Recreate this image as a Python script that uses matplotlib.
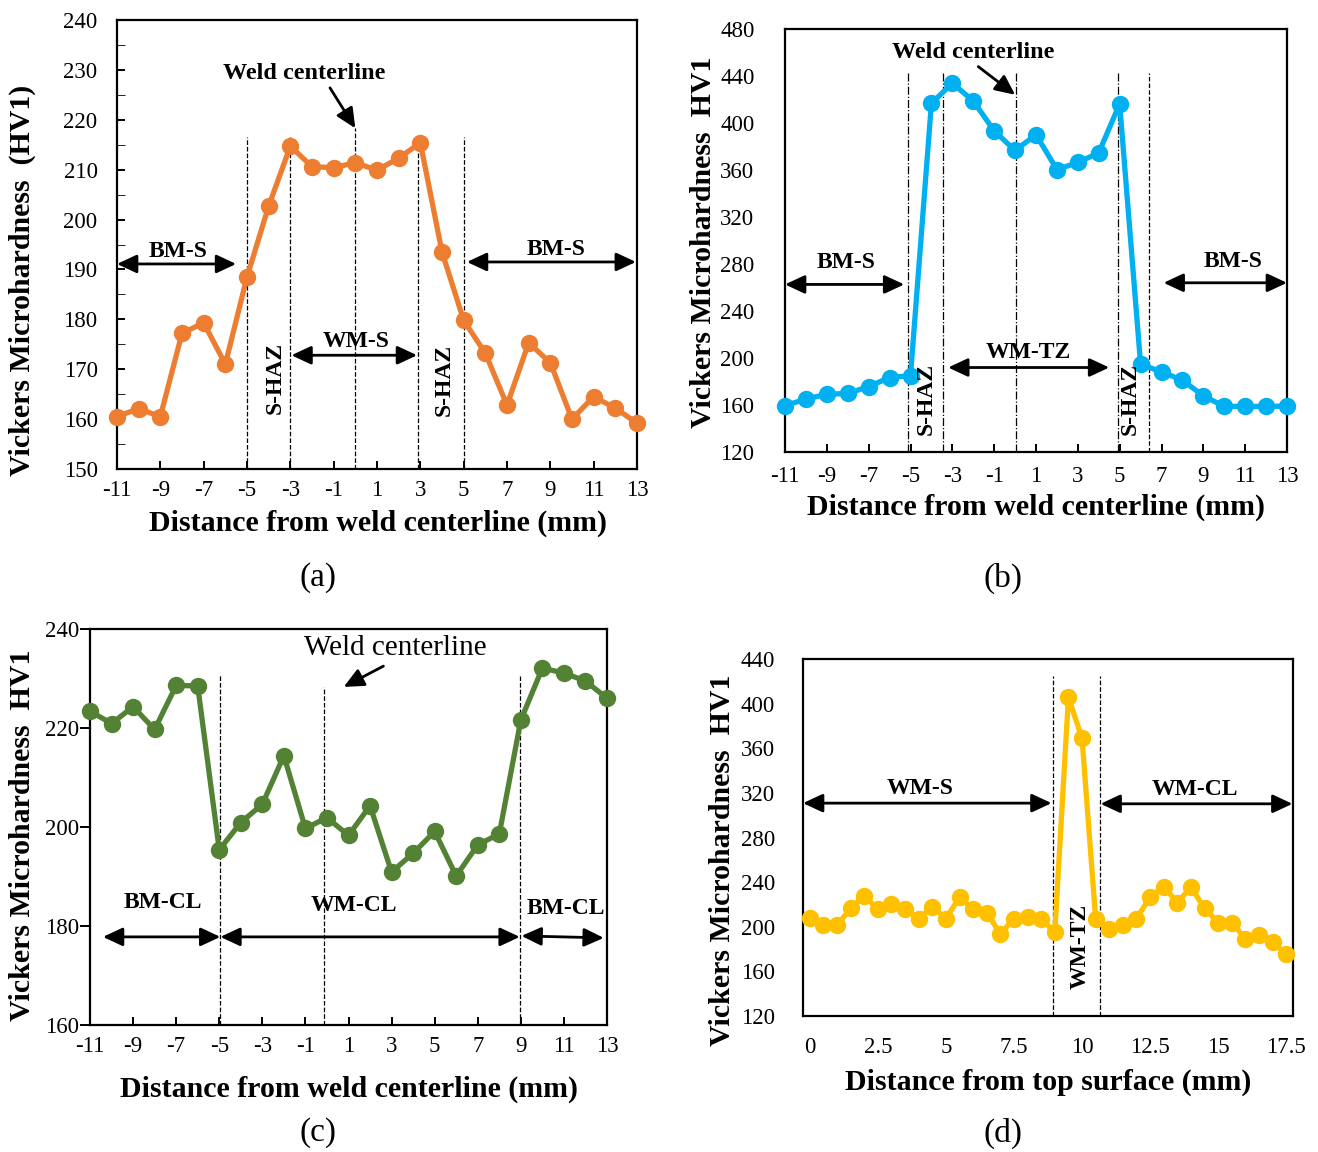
import numpy as np
import matplotlib

matplotlib.use("Agg")
import matplotlib.pyplot as plt
from matplotlib.ticker import MultipleLocator

plt.rcParams["font.family"] = ["Liberation Serif", "DejaVu Serif"]
plt.rcParams["axes.unicode_minus"] = False

# (a) across the weld, surface
a_dist = np.arange(-11, 14)
a_hv = [160.5, 162.1, 160.5, 177.2, 179.3, 171.0, 188.5, 202.7, 214.7, 210.6,
        210.4, 211.4, 209.9, 212.3, 215.4, 193.5, 179.8, 173.2, 162.8, 175.3,
        171.3, 160.0, 164.5, 162.2, 159.2]

# (b) across the weld, transition zone
b_dist = np.arange(-11, 14)
b_hv = [159.5, 165.0, 169.2, 169.8, 175.7, 183.4, 185.0, 416.8, 433.8, 418.8,
        393.3, 376.6, 390.0, 360.4, 366.4, 374.6, 416.3, 194.7, 188.2, 181.1,
        167.8, 158.8, 158.8, 158.8, 159.0]

# (c) across the weld, centre line
c_dist = np.arange(-11, 14)
c_hv = [223.4, 220.9, 224.3, 219.7, 228.6, 228.5, 195.4, 200.9, 204.6, 214.4,
        199.7, 201.9, 198.3, 204.3, 190.9, 194.7, 199.1, 190.1, 196.4, 198.6,
        221.6, 232.1, 231.1, 229.5, 226.0]

# (d) through the thickness
d_depth = np.arange(0, 18, 0.5)
d_hv = [207.6, 201.4, 201.4, 216.6, 227.7, 215.7, 220.2, 215.7, 207.3, 218.0,
        207.3, 226.5, 215.7, 212.7, 193.6, 207.3, 209.1, 206.7, 195.4, 405.6,
        368.8, 207.3, 198.3, 201.4, 207.3, 226.5, 236.0, 221.6, 235.5, 216.6,
        203.7, 203.7, 189.3, 192.7, 186.1, 175.6]

W, H = 1318, 1152
fig = plt.figure(figsize=(W / 100, H / 100), dpi=100)


def rect(left, right, top, bottom):
    return [left / W, 1 - bottom / H, (right - left) / W, (bottom - top) / H]


def profile(ax, x, y, color):
    ax.plot(x, y, color=color, lw=3.8, marker="o", ms=11.5, zorder=3,
            clip_on=False)
    for side in ax.spines.values():
        side.set_linewidth(1.6)
    ax.tick_params(labelsize=16.5, width=1.4)


def vline(ax, x, top, style="--"):
    ax.plot([x, x], [ax.get_ylim()[0], top], color="black", lw=0.9,
            ls=style, zorder=2)


def span(ax, x0, x1, y0, y1=None):
    ax.annotate("", xy=(x1, y0 if y1 is None else y1), xytext=(x0, y0),
                arrowprops=dict(arrowstyle="<|-|>,head_length=0.6,head_width=0.28",
                                color="black", lw=2, mutation_scale=20,
                                shrinkA=0, shrinkB=0), zorder=4)


def label(ax, x, y, s, rot=0):
    ax.text(x, y, s, ha="center", va="center", fontsize=17,
            fontweight="bold", rotation=rot, zorder=4)


def axis_labels(ax, xlab, ylab, xpos, ypos):
    ax.set_xlabel(xlab, fontsize=21.5, fontweight="bold", va="center")
    ax.set_ylabel(ylab, fontsize=21.5, fontweight="bold", va="center")
    ax.xaxis.set_label_coords(*xpos)
    ax.yaxis.set_label_coords(*ypos)


# ---- (a)
ax = fig.add_axes(rect(117, 637, 20, 469))
ax.set_xlim(-11, 13)
ax.set_ylim(150, 240)
profile(ax, a_dist, a_hv, "#ED7D31")
ax.set_xticks(np.arange(-11, 14, 2))
ax.set_yticks(np.arange(150, 241, 10))
ax.yaxis.set_minor_locator(MultipleLocator(5))
ax.tick_params(axis="both", which="both", direction="in", length=6)
ax.tick_params(axis="y", which="both", right=False, pad=14)
ax.tick_params(axis="x", pad=8)
for xv in (-5, -3, 2.9, 5):
    vline(ax, xv, 216.6)
vline(ax, 0, 218.3)
ax.text(-2.37, 229.3, "Weld centerline", ha="center", va="center",
        fontsize=17.5, fontweight="bold")
ax.annotate("", xy=(0, 218.3), xytext=(-1.17, 226.4),
            arrowprops=dict(arrowstyle="-|>,head_length=0.6,head_width=0.28",
                            color="black", lw=2, mutation_scale=20,
                            shrinkA=0, shrinkB=0))
span(ax, -11, -5.5, 191.1)
label(ax, -8.2, 193.5, "BM-S")
span(ax, 5.15, 12.95, 191.5)
label(ax, 9.25, 193.9, "BM-S")
span(ax, -2.95, 2.85, 172.8)
label(ax, 0.05, 175.5, "WM-S")
label(ax, -3.7, 168.2, "S-HAZ", rot=90)
label(ax, 4.1, 167.8, "S-HAZ", rot=90)
axis_labels(ax, "Distance from weld centerline (mm)",
            "Vickers Microhardness  (HV1)", (0.502, -0.12), (-0.183, 0.421))

# ---- (b)
ax = fig.add_axes(rect(785, 1287, 29, 452))
ax.set_xlim(-11, 13)
ax.set_ylim(120, 480)
profile(ax, b_dist, b_hv, "#00B0F0")
ax.set_xticks(np.arange(-11, 14, 2))
ax.set_yticks(np.arange(120, 481, 40))
ax.tick_params(axis="x", direction="in", length=6, pad=10)
ax.tick_params(axis="y", length=0, pad=22)
for xv in (-5.14, -3.44, 0.02, 4.92):
    vline(ax, xv, 442.3, style="-.")
vline(ax, 6.41, 442.3)
ax.text(-2.0, 459.8, "Weld centerline", ha="center", va="center",
        fontsize=17.5, fontweight="bold")
ax.annotate("", xy=(0.0, 424.0), xytext=(-1.76, 448.0),
            arrowprops=dict(arrowstyle="-|>,head_length=0.6,head_width=0.28",
                            color="black", lw=2, mutation_scale=20,
                            shrinkA=0, shrinkB=0))
span(ax, -11, -5.3, 262.6)
label(ax, -8.1, 281, "BM-S")
span(ax, 7.1, 13, 264)
label(ax, 10.4, 282, "BM-S")
span(ax, -3.2, 4.5, 191.9)
label(ax, 0.63, 204.6, "WM-TZ")
label(ax, -4.23, 165, "S-HAZ", rot=90)
label(ax, 5.5, 165, "S-HAZ", rot=90)
axis_labels(ax, "Distance from weld centerline (mm)",
            "Vickers Microhardness  HV1", (0.5, -0.13), (-0.163, 0.496))

# ---- (c)
ax = fig.add_axes(rect(90, 607, 629, 1025))
ax.set_xlim(-11, 13)
ax.set_ylim(160, 240)
profile(ax, c_dist, c_hv, "#548235")
ax.set_xticks(np.arange(-11, 14, 2))
ax.set_yticks(np.arange(160, 241, 20))
ax.tick_params(axis="x", direction="in", length=6, pad=8)
ax.tick_params(axis="y", direction="out", length=7, pad=1)
vline(ax, -4.95, 230.8)
vline(ax, -0.15, 228.3)
vline(ax, 8.98, 230.5)
ax.text(3.17, 236.1, "Weld centerline", ha="center", va="center", fontsize=21)
ax.annotate("", xy=(0.78, 228.3), xytext=(2.62, 232.5),
            arrowprops=dict(arrowstyle="-|>,head_length=0.6,head_width=0.28",
                            color="black", lw=2, mutation_scale=20,
                            shrinkA=0, shrinkB=0))
span(ax, -10.4, -4.95, 177.8)
label(ax, -7.6, 184.8, "BM-CL")
span(ax, -4.95, 8.95, 177.8)
label(ax, 1.26, 184.2, "WM-CL")
span(ax, 9.03, 12.85, 178.0, 177.6)
label(ax, 11.1, 183.5, "BM-CL")
axis_labels(ax, "Distance from weld centerline (mm)",
            "Vickers Microhardness  HV1", (0.5, -0.162), (-0.1315, 0.48))

# ---- (d)
ax = fig.add_axes(rect(803, 1293, 659, 1016))
ax.set_xlim(-0.25, 17.75)
ax.set_ylim(120, 440)
profile(ax, d_depth, d_hv, "#FFC000")
ax.set_xticks(np.arange(0, 17.6, 2.5))
ax.set_xticklabels(["0", "2.5", "5", "7.5", "10", "12.5", "15", "17.5"])
ax.set_yticks(np.arange(120, 441, 40))
ax.tick_params(axis="x", length=0, pad=15)
ax.tick_params(axis="y", length=0, pad=20)
vline(ax, 8.92, 424.4)
vline(ax, 10.66, 424.4)
span(ax, -0.25, 8.88, 310.8)
label(ax, 4.05, 324.3, "WM-S")
span(ax, 10.68, 17.73, 310.2)
label(ax, 14.14, 322.7, "WM-CL")
label(ax, 9.95, 182.2, "WM-TZ", rot=90)
axis_labels(ax, "Distance from top surface (mm)",
            "Vickers Microhardness  HV1", (0.5, -0.185), (-0.165, 0.437))

for s, (px, py) in zip(["(a)", "(b)", "(c)", "(d)"],
                       [(318, 578), (1003, 578), (318, 1133), (1003, 1133)]):
    fig.text(px / W, 1 - py / H, s, ha="center", va="center", fontsize=24)

fig.savefig("out.png", dpi=100)
